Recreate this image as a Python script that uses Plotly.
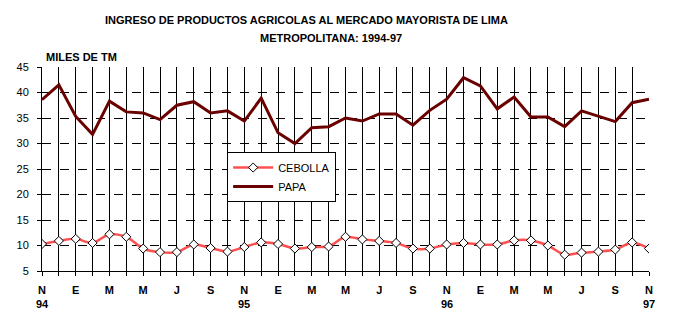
import plotly.graph_objects as go

months = ["N","","E","","M","","M","","J","","S","",
          "N","","E","","M","","M","","J","","S","",
          "N","","E","","M","","M","","J","","S","","N"]
years = {0: "94", 12: "95", 24: "96", 36: "97"}

papa = [38.6, 41.5, 35.3, 31.8, 38.3, 36.2, 36.0, 34.7, 37.5, 38.2, 36.0, 36.4,
        34.4, 38.9, 32.1, 30.0, 33.1, 33.3, 35.0, 34.4, 35.8, 35.8, 33.6, 36.5,
        38.7, 42.9, 41.3, 36.8, 39.1, 35.2, 35.2, 33.3, 36.4, 35.4, 34.3, 38.0, 38.7]
cebolla = [10.3, 10.9, 11.3, 10.5, 12.2, 11.7, 9.4, 8.7, 8.7, 10.2, 9.5, 8.8,
           9.7, 10.6, 10.3, 9.4, 9.7, 9.8, 11.7, 11.2, 10.9, 10.5, 9.4, 9.4,
           10.2, 10.5, 10.2, 10.2, 11.0, 11.0, 10.0, 8.2, 8.6, 8.8, 9.2, 10.6, 9.4]
x = list(range(len(papa)))
y_ticks = list(range(5, 46, 5))

FONT = "Liberation Sans, Arial, sans-serif"

fig = go.Figure()
fig.add_trace(go.Scatter(
    x=x, y=cebolla, name="CEBOLLA", mode="lines+markers",
    line=dict(color="#ff5050", width=2.5, shape="spline", smoothing=0.8),
    marker=dict(symbol="diamond", size=7, color="white",
                line=dict(color="black", width=1))))
fig.add_trace(go.Scatter(
    x=x, y=papa, name="PAPA", mode="lines",
    line=dict(color="#6b0000", width=3)))

fig.update_layout(
    width=679, height=332,
    margin=dict(l=42, r=30, t=67, b=61),
    paper_bgcolor="white", plot_bgcolor="white",
    font=dict(family=FONT, size=11, color="black"),
    showlegend=True,
    legend=dict(x=0.305, y=0.583, xanchor="left", yanchor="top",
                bgcolor="white", bordercolor="black", borderwidth=1,
                font=dict(family=FONT, size=11, color="black"),
                itemwidth=40, tracegroupgap=0),
)
fig.update_xaxes(
    range=[0, 36], tickmode="array", tickvals=x, ticktext=months,
    showgrid=True, gridcolor="black", gridwidth=1,
    showline=True, linecolor="black", linewidth=1,
    ticks="outside", ticklen=4, tickcolor="black", ticklabelstandoff=5,
    tickfont=dict(family=FONT, size=11, color="black", weight="bold"),
    zeroline=False)
fig.update_yaxes(
    range=[5, 45], tickmode="array", tickvals=y_ticks,
    showgrid=True, gridcolor="black", gridwidth=1, griddash="dash",
    showline=True, linecolor="black", linewidth=1,
    ticks="outside", ticklen=4, tickcolor="black", ticklabelstandoff=6,
    tickfont=dict(family=FONT, size=11, color="black"),
    zeroline=False)

# hide the dashed gridline at the top edge (the reference has none)
fig.add_shape(type="line", xref="paper", yref="y", x0=0, x1=1, y0=y_ticks[-1], y1=y_ticks[-1],
              line=dict(color="white", width=1.5), layer="between")

for xi, yr in years.items():
    fig.add_annotation(x=xi, y=0, xref="x", yref="paper", yshift=-33, yanchor="middle",
                       text="<b>%s</b>" % yr, showarrow=False,
                       font=dict(family=FONT, size=11, color="black"))

fig.add_annotation(xref="paper", yref="paper", x=(306 - 42) / 607, y=1 + (67 - 20) / 204,
                   text="<b>INGRESO DE PRODUCTOS AGRICOLAS AL MERCADO MAYORISTA DE LIMA</b>",
                   showarrow=False, xanchor="center", yanchor="middle",
                   font=dict(family=FONT, size=11, color="black"))
fig.add_annotation(xref="paper", yref="paper", x=(331 - 42) / 607, y=1 + (67 - 38) / 204,
                   text="<b>METROPOLITANA: 1994-97</b>",
                   showarrow=False, xanchor="center", yanchor="middle",
                   font=dict(family=FONT, size=11, color="black"))
fig.add_annotation(xref="paper", yref="paper", x=(44 - 42) / 607, y=1 + (67 - 57) / 204,
                   text="<b>MILES DE TM</b>",
                   showarrow=False, xanchor="left", yanchor="middle",
                   font=dict(family=FONT, size=11, color="black"))

fig.write_html("out.html")
